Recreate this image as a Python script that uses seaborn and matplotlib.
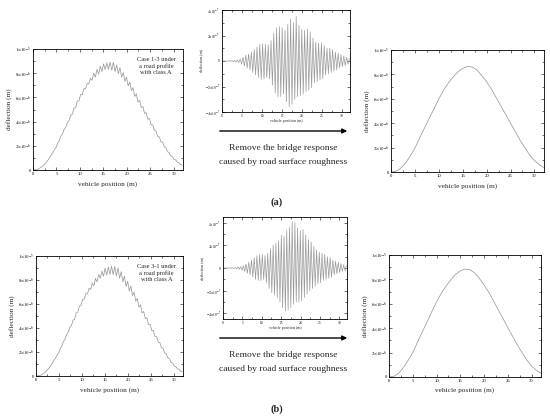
import numpy as np
import pandas as pd
import matplotlib
matplotlib.use("Agg")
import matplotlib.pyplot as plt
import seaborn as sns
from matplotlib.ticker import MultipleLocator
from matplotlib.patches import FancyArrowPatch

# ---------------- data ----------------
# smooth bridge deflection (x 1e-6 m) at every metre, 0..32 m
pos_m = list(range(33))
smooth_case13 = [0.0, 0.05, 0.3, 0.7, 1.3, 1.95, 2.8, 3.6, 4.4, 5.2, 6.0, 6.7, 7.3, 7.8, 8.2,
                 8.5, 8.65, 8.6, 8.35, 7.9, 7.4, 6.8, 6.1, 5.4, 4.7, 4.0, 3.3, 2.6, 2.0, 1.4,
                 0.95, 0.6, 0.35]
smooth_case31 = [0.0, 0.05, 0.3, 0.75, 1.35, 2.0, 2.85, 3.7, 4.5, 5.35, 6.15, 6.85, 7.45, 7.95, 8.4,
                 8.7, 8.85, 8.8, 8.55, 8.1, 7.55, 6.95, 6.25, 5.5, 4.8, 4.05, 3.35, 2.65, 2.0, 1.4,
                 0.9, 0.55, 0.3]

# roughness-induced response (x 1e-7 m): successive troughs and peaks, half-cycle spacing 0.35 m
half_cycle = 0.35
peaks_case13 = [0.0, 0.0, 0.02, 0.03, 0.05, 0.08, 0.15, 0.3, 0.45, 0.55, 0.7, 0.9, 1.1, 1.3, 1.35,
                1.3, 1.25, 1.6, 2.2, 2.6, 2.7, 2.6, 2.4, 2.9, 3.3, 3.0, 3.5, 2.8, 2.5, 2.4,
                2.5, 2.3, 1.8, 1.5, 1.4, 1.4, 1.2, 1.0, 1.0, 0.9, 0.7, 0.6, 0.5, 0.4, 0.3, 0.2]
troughs_case13 = [0.0, 0.0, -0.02, -0.03, -0.05, -0.08, -0.12, -0.25, -0.4, -0.55, -0.7, -0.9, -1.1,
                  -1.3, -1.45, -1.4, -1.3, -1.4, -1.9, -2.5, -2.8, -2.8, -2.6, -3.2, -3.6, -3.4,
                  -3.0, -2.8, -2.7, -2.6, -2.4, -2.3, -2.1, -1.7, -1.6, -1.5, -1.4, -1.1, -1.0,
                  -0.9, -0.8, -0.7, -0.55, -0.45, -0.35, -0.25]
peaks_case31 = [0.0, 0.0, 0.02, 0.03, 0.05, 0.1, 0.12, 0.2, 0.35, 0.5, 0.7, 0.9, 1.1, 1.2, 1.2,
                1.1, 1.3, 1.7, 2.0, 2.2, 2.4, 2.9, 2.8, 3.3, 3.6, 4.1, 4.0, 3.5, 3.3, 3.4,
                2.9, 2.5, 2.3, 1.9, 1.6, 1.4, 1.3, 1.2, 1.0, 0.9, 0.7, 0.6, 0.5, 0.4, 0.3, 0.2]
troughs_case31 = [0.0, 0.0, -0.02, -0.03, -0.05, -0.08, -0.12, -0.2, -0.3, -0.45, -0.6, -0.8, -1.0,
                  -1.1, -1.1, -1.0, -1.3, -1.8, -2.2, -2.4, -2.6, -3.0, -3.5, -3.8, -3.7, -3.5,
                  -3.2, -3.0, -3.0, -2.9, -2.6, -2.3, -2.0, -1.8, -1.6, -1.4, -1.3, -1.1, -1.0,
                  -0.9, -0.8, -0.6, -0.5, -0.4, -0.3, -0.25]

defl_ticks = [0, 2e-6, 4e-6, 6e-6, 8e-6, 1e-5]
defl_labels = ["0", r"$2{\times}10^{-6}$", r"$4{\times}10^{-6}$", r"$6{\times}10^{-6}$",
               r"$8{\times}10^{-6}$", r"$1{\times}10^{-5}$"]
rough_ticks = [-4e-7, -2e-7, 0, 2e-7, 4e-7]
rough_labels = [r"$-4{\times}10^{-7}$", r"$-2{\times}10^{-7}$", "0", r"$2{\times}10^{-7}$",
                r"$4{\times}10^{-7}$"]
x_ticks = [0, 5, 10, 15, 20, 25, 30]

# ---------------- build series ----------------
def rough_series(troughs, peaks):
    vals = np.empty(len(troughs) + len(peaks))
    vals[0::2] = troughs
    vals[1::2] = peaks
    xs = np.arange(len(vals)) * half_cycle
    return xs, vals * 1e-7

# ---------------- style ----------------
sns.set_style("ticks")
plt.rcParams['font.family'] = ['Liberation Serif', 'DejaVu Serif']
plt.rcParams['mathtext.fontset'] = 'stix'

W, H = 550, 417
fig = plt.figure(figsize=(5.5, 4.17), dpi=100)

def box(l, t, r, b):
    return [l / W, 1 - b / H, (r - l) / W, (b - t) / H]

line_col = "#9a9a9a"

def style_axis(ax, small=False):
    ax.set_xlim(0, 32)
    for s in ax.spines.values():
        s.set_visible(True)
        s.set_color("black")
        s.set_linewidth(0.6)
    ls = 2.6 if small else 3.4
    ax.tick_params(which="both", direction="in", top=True, right=True, width=0.4,
                   labelsize=ls, pad=1.5, colors="black")
    ax.tick_params(which="major", length=2.0)
    ax.tick_params(which="minor", length=1.2)
    ax.set_xticks(x_ticks)
    ax.xaxis.set_minor_locator(MultipleLocator(2.5))

def defl_panel(rect, xs, ys, ypad_label):
    ax = fig.add_axes(rect)
    sns.lineplot(x=xs, y=ys, ax=ax, color=line_col, linewidth=0.55, estimator=None)
    style_axis(ax)
    ax.set_ylim(0, 1e-5)
    ax.set_yticks(defl_ticks)
    ax.set_yticklabels(defl_labels)
    ax.yaxis.set_minor_locator(MultipleLocator(1e-6))
    ax.set_xlabel("vehicle position (m)", fontsize=5.2, labelpad=ypad_label)
    ax.set_ylabel("deflection (m)", fontsize=5.2, labelpad=2)
    return ax

def rough_panel(rect, xs, ys, ylim):
    ax = fig.add_axes(rect)
    sns.lineplot(x=xs, y=ys, ax=ax, color=line_col, linewidth=0.5, estimator=None)
    style_axis(ax, small=True)
    ax.set_ylim(-ylim, ylim)
    ax.set_yticks(rough_ticks)
    ax.set_yticklabels(rough_labels)
    ax.yaxis.set_minor_locator(MultipleLocator(1e-7))
    ax.set_xlabel("vehicle position (m)", fontsize=3.0, labelpad=1.0)
    ax.set_ylabel("deflection (m)", fontsize=3.0, labelpad=1.5)
    return ax

pos = np.array(pos_m, dtype=float)
for row, (sm, tr, pk, case, dy) in enumerate([
        (smooth_case13, troughs_case13, peaks_case13, "1-3", 0),
        (smooth_case31, troughs_case31, peaks_case31, "3-1", 1)]):
    sm_vals = np.array(sm) * 1e-6
    rx, rv = rough_series(tr, pk)
    measured = np.interp(rx, pos, sm_vals) + rv

    if row == 0:
        axl = defl_panel(box(33, 49, 183, 170), rx, measured, 4)
        axm = rough_panel(box(222, 10, 350, 112), rx, rv, 4e-7)
        axr = defl_panel(box(391, 50, 544, 172), pos, sm_vals, 4)
        yb = 0
    else:
        axl = defl_panel(box(36, 256, 183, 376), rx, measured, 4)
        axm = rough_panel(box(223, 217, 347, 319), rx, rv, 4.5e-7)
        axr = defl_panel(box(389, 255, 541, 377), pos, sm_vals, 3)
        yb = 207

    axl.text(0.82, 0.86, f"Case {case} under\na road profile\nwith class A",
             transform=axl.transAxes, ha="center", va="center", fontsize=4.6,
             linespacing=1.25)

    arr = FancyArrowPatch((217 / W, 1 - (131 + yb) / H), (350 / W, 1 - (131 + yb) / H),
                          transform=fig.transFigure, arrowstyle="-|>", mutation_scale=7,
                          color="black", linewidth=1.0)
    fig.patches.append(arr)
    fig.text(283 / W, 1 - (148 + yb) / H, "Remove the bridge response", ha="center",
             va="center", fontsize=6.8)
    fig.text(283 / W, 1 - (162 + yb) / H, "caused by road surface roughness", ha="center",
             va="center", fontsize=6.8)
    fig.text(277 / W, 1 - (202 + yb) / H, "(a)" if row == 0 else "(b)", ha="center",
             va="center", fontsize=7.5, fontweight="bold")

fig.savefig("out.png", dpi=100, facecolor="white")
